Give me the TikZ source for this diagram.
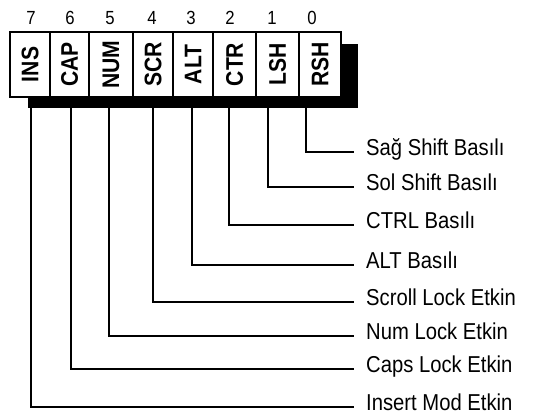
\documentclass[tikz,border=0pt]{standalone}
\usepackage{fontspec}
\setmainfont{Liberation Sans}
\newfontfamily\cellfont[FakeStretch=0.88]{Liberation Sans}
\newfontfamily\flagfont[FakeStretch=0.88]{Liberation Sans}
\usetikzlibrary{positioning}

\begin{document}
\begin{tikzpicture}[x=1pt,y=-1pt,
    cell/.style={draw,line width=1.2pt,fill=white,minimum height=65pt,inner sep=0pt,
      font=\cellfont\bfseries\fontsize{24}{24}\selectfont},
    bitno/.style={inner sep=0pt,font=\flagfont\fontsize{19}{19}\selectfont},
    flag/.style={anchor=west,inner xsep=12pt,inner ysep=0pt,text height=0.72em,text depth=0pt,
      font=\flagfont\fontsize{23}{23}\selectfont},
    wire/.style={line width=1.1pt}]
      \useasboundingbox (0,0) rectangle (547,419);
      % shadow behind the register
      \fill (28,44) rectangle (358,108);
      % the eight bits
      \node[cell,minimum width=40pt] (c7) at (30,64.5) {\rotatebox{90}{INS}};
      \node[cell,minimum width=39pt] (c6) at (69.5,64.5) {\rotatebox{90}{CAP}};
      \node[cell,minimum width=44pt] (c5) at (111,64.5) {\rotatebox{90}{NUM}};
      \node[cell,minimum width=40pt] (c4) at (153,64.5) {\rotatebox{90}{SCR}};
      \node[cell,minimum width=40pt] (c3) at (193,64.5) {\rotatebox{90}{ALT}};
      \node[cell,minimum width=43pt] (c2) at (234.5,64.5) {\rotatebox{90}{CTR}};
      \node[cell,minimum width=43pt] (c1) at (277.5,64.5) {\rotatebox{90}{LSH}};
      \node[cell,minimum width=42pt] (c0) at (320,64.5) {\rotatebox{90}{RSH}};
      % bit numbers
      \node[bitno] (n7) at (31,18) {7};
      \node[bitno] (n6) at (70,18) {6};
      \node[bitno] (n5) at (110,18) {5};
      \node[bitno] (n4) at (152,18) {4};
      \node[bitno] (n3) at (191,18) {3};
      \node[bitno] (n2) at (230,18) {2};
      \node[bitno] (n1) at (272,18) {1};
      \node[bitno] (n0) at (312,18) {0};
      % meanings
      \node[flag] (f0) at (354,152) {Sağ Shift Basılı};
      \node[flag] (f1) at (354,187) {Sol Shift Basılı};
      \node[flag] (f2) at (354,225) {CTRL Basılı};
      \node[flag] (f3) at (354,265) {ALT Basılı};
      \node[flag] (f4) at (354,302) {Scroll Lock Etkin};
      \node[flag] (f5) at (354,336) {Num Lock Etkin};
      \node[flag] (f6) at (354,369) {Caps Lock Etkin};
      \node[flag] (f7) at (354,407) {Insert Mod Etkin};
      \draw[wire] ([xshift=-14pt]c0.south) |- (f0.west);
      \draw[wire] ([xshift=-9.5pt]c1.south) |- (f1.west);
      \draw[wire] ([xshift=-5.5pt]c2.south) |- (f2.west);
      \draw[wire] ([xshift=-1pt]c3.south) |- (f3.west);
      \draw[wire] (c4.south) |- (f4.west);
      \draw[wire] ([xshift=-2pt]c5.south) |- (f5.west);
      \draw[wire] ([xshift=1.5pt]c6.south) |- (f6.west);
      \draw[wire] ([xshift=1pt]c7.south) |- (f7.west);
    \end{tikzpicture}
\end{document}
